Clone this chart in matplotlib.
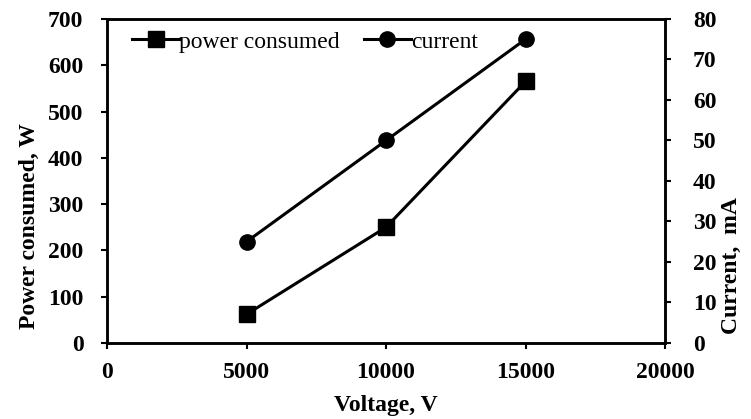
import matplotlib.pyplot as plt

plt.rcParams['font.family'] = ['Liberation Serif', 'DejaVu Serif']

voltage = [5000, 10000, 15000]
power = [62, 250, 565]
current = [25, 50, 75]

fig = plt.figure(figsize=(7.51, 4.19), dpi=100)
ax = fig.add_axes([0.1425, 0.1814, 0.743, 0.7733])
ax2 = ax.twinx()

l1, = ax.plot(voltage, power, color='black', lw=2.2, marker='s', ms=11,
              label='power consumed')
l2, = ax2.plot(voltage, current, color='black', lw=2.2, marker='o', ms=11,
               label='current')

ax.set_xlim(0, 20000)
ax.set_ylim(0, 700)
ax2.set_ylim(0, 80)
ax.set_xticks([0, 5000, 10000, 15000, 20000])
ax.set_yticks(range(0, 701, 100))
ax2.set_yticks(range(0, 81, 10))

for a in (ax, ax2):
    a.tick_params(direction='out', length=4, width=1.5, labelsize=17)
    for s in a.spines.values():
        s.set_linewidth(1.8)
    for t in a.get_xticklabels() + a.get_yticklabels():
        t.set_fontweight('bold')
ax.tick_params(axis='x', pad=10)
ax.tick_params(axis='y', pad=13)
ax2.tick_params(axis='y', pad=16)

ax.set_xlabel('Voltage, V', fontsize=17, fontweight='bold')
ax.set_ylabel('Power consumed, W', fontsize=17, fontweight='bold')
ax2.set_ylabel('Current,  mA', fontsize=17, fontweight='bold')
ax.xaxis.set_label_coords(0.5, -0.16)
ax.yaxis.set_label_coords(-0.12, 0.36)
ax2.yaxis.set_label_coords(1.100, 0.24)

ax.legend(handles=[l1, l2], loc='center left', bbox_to_anchor=(0.045, 0.929),
          ncol=2, frameon=False, fontsize=17, handlelength=2.0,
          handletextpad=0.0, columnspacing=1.0, borderaxespad=0, borderpad=0)

fig.savefig('out.png', dpi=100)
